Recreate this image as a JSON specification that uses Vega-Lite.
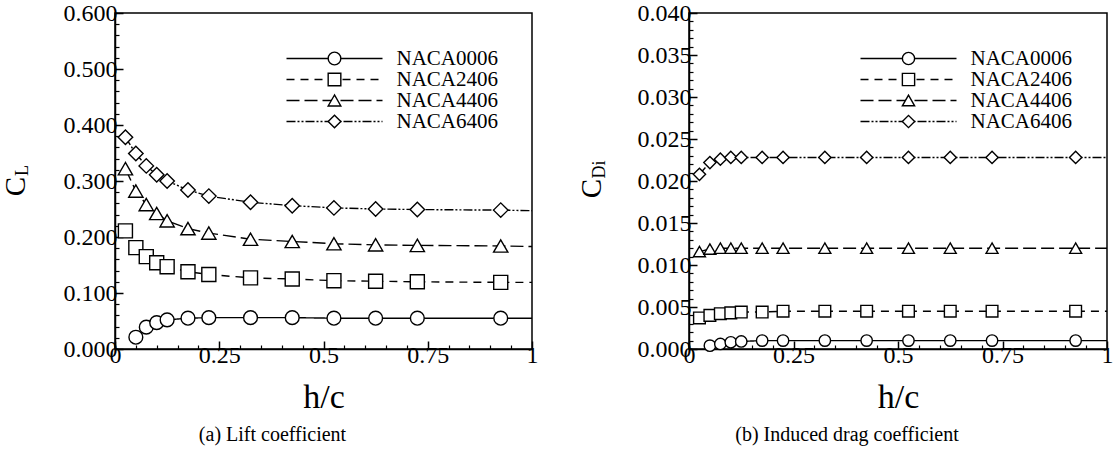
{
  "$schema": "https://vega.github.io/schema/vega-lite/v6.json",
  "background": "white",
  "padding": {"left": 0, "top": 0, "right": 0, "bottom": 0},
  "bounds": "flush",
  "spacing": 157,
  "datasets": {
    "lift": [
      {"s": "NACA0006", "h": 0.05, "v": 0.021},
      {"s": "NACA0006", "h": 0.075, "v": 0.039},
      {"s": "NACA0006", "h": 0.1, "v": 0.047},
      {"s": "NACA0006", "h": 0.125, "v": 0.052},
      {"s": "NACA0006", "h": 0.175, "v": 0.055},
      {"s": "NACA0006", "h": 0.225, "v": 0.056},
      {"s": "NACA0006", "h": 0.325, "v": 0.056},
      {"s": "NACA0006", "h": 0.425, "v": 0.056},
      {"s": "NACA0006", "h": 0.525, "v": 0.055},
      {"s": "NACA0006", "h": 0.625, "v": 0.055},
      {"s": "NACA0006", "h": 0.725, "v": 0.055},
      {"s": "NACA0006", "h": 0.925, "v": 0.055},
      {"s": "NACA0006", "h": 1.0, "v": 0.055},
      {"s": "NACA2406", "h": 0.025, "v": 0.211},
      {"s": "NACA2406", "h": 0.05, "v": 0.181},
      {"s": "NACA2406", "h": 0.075, "v": 0.165},
      {"s": "NACA2406", "h": 0.1, "v": 0.154},
      {"s": "NACA2406", "h": 0.125, "v": 0.147},
      {"s": "NACA2406", "h": 0.175, "v": 0.138},
      {"s": "NACA2406", "h": 0.225, "v": 0.133},
      {"s": "NACA2406", "h": 0.325, "v": 0.127},
      {"s": "NACA2406", "h": 0.425, "v": 0.125},
      {"s": "NACA2406", "h": 0.525, "v": 0.122},
      {"s": "NACA2406", "h": 0.625, "v": 0.121},
      {"s": "NACA2406", "h": 0.725, "v": 0.12},
      {"s": "NACA2406", "h": 0.925, "v": 0.119},
      {"s": "NACA2406", "h": 1.0, "v": 0.119},
      {"s": "NACA4406", "h": 0.025, "v": 0.322},
      {"s": "NACA4406", "h": 0.05, "v": 0.282},
      {"s": "NACA4406", "h": 0.075, "v": 0.258},
      {"s": "NACA4406", "h": 0.1, "v": 0.242},
      {"s": "NACA4406", "h": 0.125, "v": 0.229},
      {"s": "NACA4406", "h": 0.175, "v": 0.215},
      {"s": "NACA4406", "h": 0.225, "v": 0.207},
      {"s": "NACA4406", "h": 0.325, "v": 0.196},
      {"s": "NACA4406", "h": 0.425, "v": 0.192},
      {"s": "NACA4406", "h": 0.525, "v": 0.188},
      {"s": "NACA4406", "h": 0.625, "v": 0.186},
      {"s": "NACA4406", "h": 0.725, "v": 0.185},
      {"s": "NACA4406", "h": 0.925, "v": 0.184},
      {"s": "NACA4406", "h": 1.0, "v": 0.183},
      {"s": "NACA6406", "h": 0.025, "v": 0.378},
      {"s": "NACA6406", "h": 0.05, "v": 0.349},
      {"s": "NACA6406", "h": 0.075, "v": 0.327},
      {"s": "NACA6406", "h": 0.1, "v": 0.311},
      {"s": "NACA6406", "h": 0.125, "v": 0.3},
      {"s": "NACA6406", "h": 0.175, "v": 0.284},
      {"s": "NACA6406", "h": 0.225, "v": 0.273},
      {"s": "NACA6406", "h": 0.325, "v": 0.262},
      {"s": "NACA6406", "h": 0.425, "v": 0.256},
      {"s": "NACA6406", "h": 0.525, "v": 0.252},
      {"s": "NACA6406", "h": 0.625, "v": 0.25},
      {"s": "NACA6406", "h": 0.725, "v": 0.249},
      {"s": "NACA6406", "h": 0.925, "v": 0.248},
      {"s": "NACA6406", "h": 1.0, "v": 0.247}
    ],
    "drag": [
      {"s": "NACA0006", "h": 0.05, "v": 0.0004},
      {"s": "NACA0006", "h": 0.075, "v": 0.0006},
      {"s": "NACA0006", "h": 0.1, "v": 0.0008},
      {"s": "NACA0006", "h": 0.125, "v": 0.0009},
      {"s": "NACA0006", "h": 0.175, "v": 0.001},
      {"s": "NACA0006", "h": 0.225, "v": 0.001},
      {"s": "NACA0006", "h": 0.325, "v": 0.001},
      {"s": "NACA0006", "h": 0.425, "v": 0.001},
      {"s": "NACA0006", "h": 0.525, "v": 0.001},
      {"s": "NACA0006", "h": 0.625, "v": 0.001},
      {"s": "NACA0006", "h": 0.725, "v": 0.001},
      {"s": "NACA0006", "h": 0.925, "v": 0.001},
      {"s": "NACA0006", "h": 1.0, "v": 0.001},
      {"s": "NACA2406", "h": 0.025, "v": 0.0037},
      {"s": "NACA2406", "h": 0.05, "v": 0.004},
      {"s": "NACA2406", "h": 0.075, "v": 0.0042},
      {"s": "NACA2406", "h": 0.1, "v": 0.0043},
      {"s": "NACA2406", "h": 0.125, "v": 0.0044},
      {"s": "NACA2406", "h": 0.175, "v": 0.0044},
      {"s": "NACA2406", "h": 0.225, "v": 0.0045},
      {"s": "NACA2406", "h": 0.325, "v": 0.0045},
      {"s": "NACA2406", "h": 0.425, "v": 0.0045},
      {"s": "NACA2406", "h": 0.525, "v": 0.0045},
      {"s": "NACA2406", "h": 0.625, "v": 0.0045},
      {"s": "NACA2406", "h": 0.725, "v": 0.0045},
      {"s": "NACA2406", "h": 0.925, "v": 0.0045},
      {"s": "NACA2406", "h": 1.0, "v": 0.0045},
      {"s": "NACA4406", "h": 0.025, "v": 0.0116},
      {"s": "NACA4406", "h": 0.05, "v": 0.0119},
      {"s": "NACA4406", "h": 0.075, "v": 0.012},
      {"s": "NACA4406", "h": 0.1, "v": 0.012},
      {"s": "NACA4406", "h": 0.125, "v": 0.012},
      {"s": "NACA4406", "h": 0.175, "v": 0.012},
      {"s": "NACA4406", "h": 0.225, "v": 0.012},
      {"s": "NACA4406", "h": 0.325, "v": 0.012},
      {"s": "NACA4406", "h": 0.425, "v": 0.012},
      {"s": "NACA4406", "h": 0.525, "v": 0.012},
      {"s": "NACA4406", "h": 0.625, "v": 0.012},
      {"s": "NACA4406", "h": 0.725, "v": 0.012},
      {"s": "NACA4406", "h": 0.925, "v": 0.012},
      {"s": "NACA4406", "h": 1.0, "v": 0.012},
      {"s": "NACA6406", "h": 0.025, "v": 0.0208},
      {"s": "NACA6406", "h": 0.05, "v": 0.0222},
      {"s": "NACA6406", "h": 0.075, "v": 0.0226},
      {"s": "NACA6406", "h": 0.1, "v": 0.0228},
      {"s": "NACA6406", "h": 0.125, "v": 0.0228},
      {"s": "NACA6406", "h": 0.175, "v": 0.0228},
      {"s": "NACA6406", "h": 0.225, "v": 0.0228},
      {"s": "NACA6406", "h": 0.325, "v": 0.0228},
      {"s": "NACA6406", "h": 0.425, "v": 0.0228},
      {"s": "NACA6406", "h": 0.525, "v": 0.0228},
      {"s": "NACA6406", "h": 0.625, "v": 0.0228},
      {"s": "NACA6406", "h": 0.725, "v": 0.0228},
      {"s": "NACA6406", "h": 0.925, "v": 0.0228},
      {"s": "NACA6406", "h": 1.0, "v": 0.0228}
    ]
  },
  "config": {
    "font": "Liberation Serif",
    "view": {"stroke": "black", "strokeWidth": 1.5},
    "axis": {
      "grid": false,
      "domainColor": "black",
      "domainWidth": 1.5,
      "tickColor": "black",
      "tickWidth": 1.5,
      "labelColor": "black",
      "titleColor": "black",
      "labelFont": "Liberation Serif",
      "titleFont": "Liberation Serif",
      "labelFontSize": 24,
      "titleFontSize": 32,
      "titleFontWeight": "normal"
    },
    "legend": {
      "labelFont": "Liberation Serif",
      "labelFontSize": 21,
      "labelColor": "black",
      "padding": 0,
      "rowPadding": -2.2
    }
  },
  "resolve": {"scale": {"shape": "independent", "strokeDash": "independent", "size": "independent"}},
  "hconcat": [
    {
      "width": 417,
      "height": 336,
      "title": {"text": "(a)  Lift coefficient", "orient": "bottom", "anchor": "middle", "frame": "group", "dx": -51, "offset": 11, "fontSize": 20, "font": "Liberation Serif", "fontWeight": "normal", "color": "black"},
      "data": {"name": "lift"},
      "layer": [
        {
          "mark": {"type": "line", "color": "black", "strokeWidth": 1.4},
          "encoding": {
            "x": {"field": "h", "type": "quantitative", "scale": {"domain": [0, 1], "nice": false, "zero": false},
              "axis": {"orient": "bottom", "values": [0, 0.25, 0.5, 0.75, 1], "format": ".2~f", "labelFont": "Liberation Serif", "labelFontSize": 24, "tickSize": -8, "labelPadding": 2, "labelFlush": false, "title": "h/c", "titleX": 208.5, "titleY": 58, "titleBaseline": "alphabetic", "titleFontSize": 34}},
            "y": {"field": "v", "type": "quantitative", "scale": {"domain": [0, 0.6], "nice": false},
              "axis": {"orient": "left", "values": [0, 0.1, 0.2, 0.3, 0.4, 0.5, 0.6], "format": ".3f", "labelFont": "Liberation Serif", "labelFontSize": 24, "tickSize": -8, "labelPadding": 6, "title": "C", "titleX": -91, "titleY": 173, "titleAngle": 270, "titleBaseline": "alphabetic", "titleAlign": "center", "titleFontSize": 29}},
            "strokeDash": {"field": "s", "type": "nominal",
              "scale": {"domain": ["NACA0006", "NACA2406", "NACA4406", "NACA6406"], "range": [[1, 0], [8, 6], [13, 5], [9, 2, 2, 2, 2, 2]]},
              "legend": {"orient": "none", "legendX": 209, "legendY": 35, "title": null, "symbolType": "M-16,0H16", "symbolSize": 36, "symbolStrokeWidth": 1.4, "symbolStrokeColor": "black", "symbolFillColor": "transparent", "labelOffset": 51.5}}
          }
        },
        {
          "transform": [{"filter": "datum.h < 1"}],
          "mark": {"type": "point", "filled": true, "fill": "white", "stroke": "black", "strokeWidth": 1.4, "opacity": 1},
          "encoding": {
            "x": {"field": "h", "type": "quantitative",
              "axis": {"orient": "bottom", "values": [0.05, 0.1, 0.15, 0.2, 0.3, 0.35, 0.4, 0.45, 0.55, 0.6, 0.65, 0.7, 0.8, 0.85, 0.9, 0.95], "tickSize": -4, "tickWidth": 1.2, "labels": false, "domain": false, "title": null}},
            "y": {"field": "v", "type": "quantitative",
              "axis": {"orient": "left", "values": [0.02, 0.04, 0.06, 0.08, 0.12, 0.14, 0.16, 0.18, 0.22, 0.24, 0.26, 0.28, 0.32, 0.34, 0.36, 0.38, 0.42, 0.44, 0.46, 0.48, 0.52, 0.54, 0.56, 0.58], "tickSize": -4, "tickWidth": 1.2, "labels": false, "domain": false, "title": "L", "titleX": -88, "titleY": 157, "titleAngle": 270, "titleBaseline": "alphabetic", "titleAlign": "center", "titleFontSize": 18}},
            "shape": {"field": "s", "type": "nominal", "scale": {"range": ["circle", "square", "triangle-up", "diamond"]},
              "legend": {"orient": "none", "legendX": 209, "legendY": 35, "title": null, "symbolSize": 160, "labelOffset": 51.5, "labelOpacity": 0,
                "symbolFillColor": "white", "symbolStrokeColor": "black", "symbolStrokeWidth": 1.4,
                "encoding": {"symbols": {"fill": {"value": "white"}, "stroke": {"value": "black"}, "strokeWidth": {"value": 1.4}, "opacity": {"value": 1}}}}},
            "size": {"field": "s", "type": "nominal", "scale": {"domain": ["NACA6406", "NACA4406", "NACA2406", "NACA0006"], "range": [210, 190, 130, 210]}, "legend": null}
          }
        }
      ],
      "resolve": {"axis": {"x": "independent", "y": "independent"}}
    },
    {
      "width": 418,
      "height": 336,
      "title": {"text": "(b)  Induced drag coefficient", "orient": "bottom", "anchor": "middle", "frame": "group", "dx": -51, "offset": 11, "fontSize": 20, "font": "Liberation Serif", "fontWeight": "normal", "color": "black"},
      "data": {"name": "drag"},
      "layer": [
        {
          "mark": {"type": "line", "color": "black", "strokeWidth": 1.4},
          "encoding": {
            "x": {"field": "h", "type": "quantitative", "scale": {"domain": [0, 1], "nice": false, "zero": false},
              "axis": {"orient": "bottom", "values": [0, 0.25, 0.5, 0.75, 1], "format": ".2~f", "labelFont": "Liberation Serif", "labelFontSize": 24, "tickSize": -8, "labelPadding": 2, "labelFlush": false, "title": "h/c", "titleX": 209, "titleY": 58, "titleBaseline": "alphabetic", "titleFontSize": 34}},
            "y": {"field": "v", "type": "quantitative", "scale": {"domain": [0, 0.04], "nice": false},
              "axis": {"orient": "left", "values": [0, 0.005, 0.01, 0.015, 0.02, 0.025, 0.03, 0.035, 0.04], "format": ".3f", "labelFont": "Liberation Serif", "labelFontSize": 24, "tickSize": -8, "labelPadding": 6, "title": "C", "titleX": -89, "titleY": 175, "titleAngle": 270, "titleBaseline": "alphabetic", "titleAlign": "center", "titleFontSize": 29}},
            "strokeDash": {"field": "s", "type": "nominal",
              "scale": {"domain": ["NACA0006", "NACA2406", "NACA4406", "NACA6406"], "range": [[1, 0], [8, 6], [13, 5], [9, 2, 2, 2, 2, 2]]},
              "legend": {"orient": "none", "legendX": 209, "legendY": 35, "title": null, "symbolType": "M-16,0H16", "symbolSize": 36, "symbolStrokeWidth": 1.4, "symbolStrokeColor": "black", "symbolFillColor": "transparent", "labelOffset": 51.5}}
          }
        },
        {
          "transform": [{"filter": "datum.h < 1"}],
          "mark": {"type": "point", "filled": true, "fill": "white", "stroke": "black", "strokeWidth": 1.4, "opacity": 1},
          "encoding": {
            "x": {"field": "h", "type": "quantitative",
              "axis": {"orient": "bottom", "values": [0.05, 0.1, 0.15, 0.2, 0.3, 0.35, 0.4, 0.45, 0.55, 0.6, 0.65, 0.7, 0.8, 0.85, 0.9, 0.95], "tickSize": -4, "tickWidth": 1.2, "labels": false, "domain": false, "title": null}},
            "y": {"field": "v", "type": "quantitative",
              "axis": {"orient": "left", "values": [0.001, 0.002, 0.003, 0.004, 0.006, 0.007, 0.008, 0.009, 0.011, 0.012, 0.013, 0.014, 0.016, 0.017, 0.018, 0.019, 0.021, 0.022, 0.023, 0.024, 0.026, 0.027, 0.028, 0.029, 0.031, 0.032, 0.033, 0.034, 0.036, 0.037, 0.038, 0.039], "tickSize": -4, "tickWidth": 1.2, "labels": false, "domain": false, "title": "Di", "titleX": -85, "titleY": 156, "titleAngle": 270, "titleBaseline": "alphabetic", "titleAlign": "center", "titleFontSize": 18}},
            "shape": {"field": "s", "type": "nominal", "scale": {"range": ["circle", "square", "triangle-up", "diamond"]},
              "legend": {"orient": "none", "legendX": 209, "legendY": 35, "title": null, "symbolSize": 150, "labelOffset": 51.5, "labelOpacity": 0,
                "symbolFillColor": "white", "symbolStrokeColor": "black", "symbolStrokeWidth": 1.4,
                "encoding": {"symbols": {"fill": {"value": "white"}, "stroke": {"value": "black"}, "strokeWidth": {"value": 1.4}, "opacity": {"value": 1}}}}},
            "size": {"field": "s", "type": "nominal", "scale": {"domain": ["NACA6406", "NACA4406", "NACA2406", "NACA0006"], "range": [150, 130, 90, 150]}, "legend": null}
          }
        }
      ],
      "resolve": {"axis": {"x": "independent", "y": "independent"}}
    }
  ]
}
